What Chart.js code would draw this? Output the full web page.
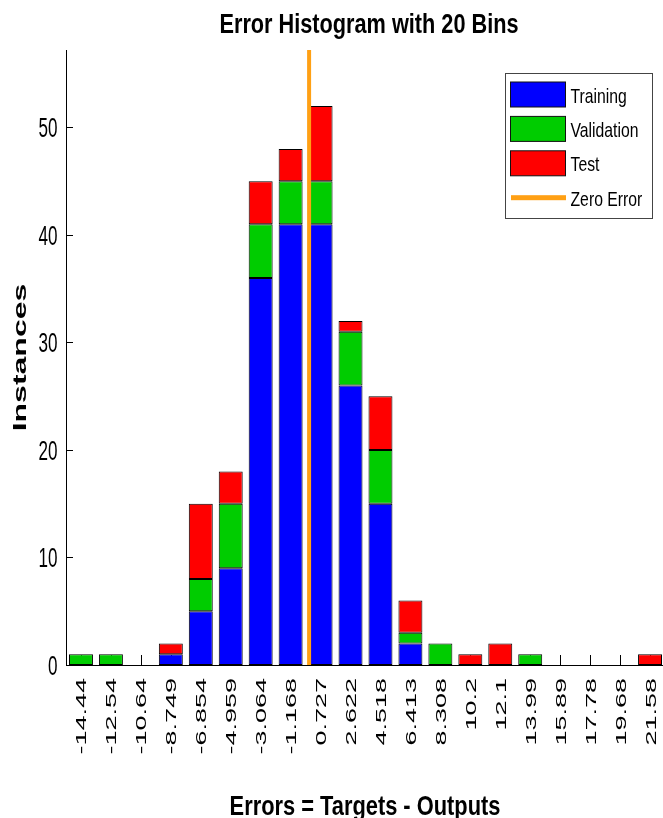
<!DOCTYPE html>
<html>
<head>
<meta charset="utf-8">
<script src="https://cdn.jsdelivr.net/npm/chart.js@4/dist/chart.umd.min.js"></script>
<style>
  html, body { margin: 0; padding: 0; background: #fff; overflow: hidden; }
  #wrap { width: 680px; height: 818px; }
</style>
</head>
<body>
<div id="wrap"><canvas id="errHist" width="680" height="818"></canvas></div>
<script>
// bin centres (tick labels) and counts per set
const binLabels = ['-14.44', '-12.54', '-10.64', '-8.749', '-6.854', '-4.959', '-3.064', '-1.168', '0.727', '2.622',
                   '4.518', '6.413', '8.308', '10.2', '12.1', '13.99', '15.89', '17.78', '19.68', '21.58'];
const training   = [0, 0, 0, 1, 5, 9, 36, 41, 41, 26, 15, 2, 0, 0, 0, 0, 0, 0, 0, 0];
const validation = [1, 1, 0, 0, 3, 6, 5, 4, 4, 5, 5, 1, 2, 0, 0, 1, 0, 0, 0, 0];
const test       = [0, 0, 0, 1, 7, 3, 4, 3, 7, 1, 5, 3, 0, 1, 2, 0, 0, 0, 0, 1];
const yMax = 57.2;
const zeroError = 0;

const COLORS = {
    training: '#0000ff',
    validation: '#00cc00',
    test: '#ff0000',
    zero: '#ffa014'
};

// where zero falls between the bin centres, in category units
const firstBin = parseFloat(binLabels[0]);
const lastBin = parseFloat(binLabels[binLabels.length - 1]);
const binWidth = (lastBin - firstBin) / (binLabels.length - 1);
const zeroIndex = (zeroError - firstBin) / binWidth;

// text with the figure's horizontal squeeze
function squeezedText(ctx, text, x, y, opt) {
    ctx.save();
    ctx.font = (opt.bold ? 'bold ' : '') + opt.size + 'px "Liberation Sans", Arial, sans-serif';
    ctx.fillStyle = '#000';
    ctx.textAlign = opt.align || 'center';
    ctx.textBaseline = 'alphabetic';
    ctx.translate(x, y);
    ctx.scale(opt.sx, 1);
    if (opt.rotate) ctx.rotate(-Math.PI / 2);
    ctx.fillText(text, 0, 0);
    ctx.restore();
}

const decorPlugin = {
    id: 'decor',
    beforeDatasetsDraw(chart) {
        // inward tick marks
        const ctx = chart.ctx;
        const xs = chart.scales.x, ys = chart.scales.y;
        const area = chart.chartArea;
        ctx.save();
        ctx.strokeStyle = '#000';
        ctx.lineWidth = 1;
        ctx.beginPath();
        xs.ticks.forEach((t, i) => {
            const px = Math.round(xs.getPixelForTick(i)) + 0.5;
            ctx.moveTo(px, area.bottom);
            ctx.lineTo(px, area.bottom - 10);
        });
        ys.ticks.forEach((t, i) => {
            const py = Math.round(ys.getPixelForValue(t.value)) + 0.5;
            ctx.moveTo(area.left, py);
            ctx.lineTo(area.left + 7, py);
        });
        ctx.stroke();
        ctx.restore();
    },
    afterDatasetsDraw(chart) {
        // zero error line
        const ctx = chart.ctx;
        const xs = chart.scales.x, ys = chart.scales.y;
        const px = xs.getPixelForValue(zeroIndex);
        ctx.save();
        ctx.strokeStyle = COLORS.zero;
        ctx.lineWidth = 4;
        ctx.beginPath();
        ctx.moveTo(px, ys.getPixelForValue(0));
        ctx.lineTo(px, ys.getPixelForValue(yMax));
        ctx.stroke();
        ctx.restore();
    },
    afterDraw(chart) {
        const ctx = chart.ctx;
        const xs = chart.scales.x, ys = chart.scales.y;
        const area = chart.chartArea;

        squeezedText(ctx, 'Error Histogram with 20 Bins', 369, 33, { size: 28, bold: true, sx: 0.775 });
        squeezedText(ctx, 'Errors = Targets - Outputs', 365, 815, { size: 28, bold: true, sx: 0.78 });
        squeezedText(ctx, 'Instances', 26, (area.top + area.bottom) / 2, { size: 32, bold: true, sx: 0.6, rotate: true });

        ys.ticks.forEach(t => {
            squeezedText(ctx, String(t.value), 57.5, ys.getPixelForValue(t.value) + 10,
                { size: 28, sx: 0.61, align: 'right' });
        });
        binLabels.forEach((lab, i) => {
            const px = xs.getPixelForTick(i);
            squeezedText(ctx, lab, px + 5.5, area.bottom + 13,
                { size: 27, sx: 0.57, align: 'right', rotate: true });
        });

        // legend box
        const bx = 505, by = 73, bw = 147, bh = 145;
        ctx.save();
        ctx.fillStyle = '#fff';
        ctx.fillRect(bx, by, bw, bh);
        ctx.strokeStyle = '#444';
        ctx.lineWidth = 1;
        ctx.strokeRect(bx + 0.5, by + 0.5, bw, bh);
        const rows = [
            { name: 'Training', color: COLORS.training },
            { name: 'Validation', color: COLORS.validation },
            { name: 'Test', color: COLORS.test },
            { name: 'Zero Error', color: COLORS.zero, line: true }
        ];
        rows.forEach((r, i) => {
            const cy = 94.5 + i * 34.4;
            if (r.line) {
                ctx.fillStyle = r.color;
                ctx.fillRect(511, cy - 2.5, 55, 5);
            } else {
                ctx.fillStyle = r.color;
                ctx.fillRect(510, cy - 12.5, 56, 25);
                ctx.strokeStyle = '#111';
                ctx.strokeRect(510.5, cy - 12.5, 55, 25);
            }
            squeezedText(ctx, r.name, 570.5, cy + 8, { size: 21, sx: 0.75, align: 'left' });
        });
        ctx.restore();
    }
};

function barSet(label, data, color) {
    return {
        label: label,
        data: data,
        backgroundColor: color,
        borderColor: '#000',
        borderWidth: 1,
        borderSkipped: false,
        barPercentage: 0.8,
        categoryPercentage: 1.0,
        stack: 'bins'
    };
}

new Chart(document.getElementById('errHist'), {
    type: 'bar',
    data: {
        labels: binLabels,
        datasets: [
            barSet('Training', training, COLORS.training),
            barSet('Validation', validation, COLORS.validation),
            barSet('Test', test, COLORS.test)
        ]
    },
    options: {
        responsive: false,
        animation: false,
        layout: { padding: { top: 50, right: 15, bottom: 0, left: 0 } },
        plugins: {
            legend: { display: false },
            title: { display: false },
            tooltip: { enabled: false }
        },
        scales: {
            x: {
                stacked: true,
                grid: { display: false, drawTicks: false },
                border: { display: true, color: '#000', width: 1 },
                ticks: { display: false },
                afterFit(scale) { scale.height = 153; }
            },
            y: {
                stacked: true,
                min: 0,
                max: yMax,
                grid: { display: false, drawTicks: false },
                border: { display: true, color: '#000', width: 1 },
                ticks: { display: false, stepSize: 10, includeBounds: false },
                afterFit(scale) { scale.width = 66; }
            }
        }
    },
    plugins: [decorPlugin]
});
</script>
</body>
</html>
